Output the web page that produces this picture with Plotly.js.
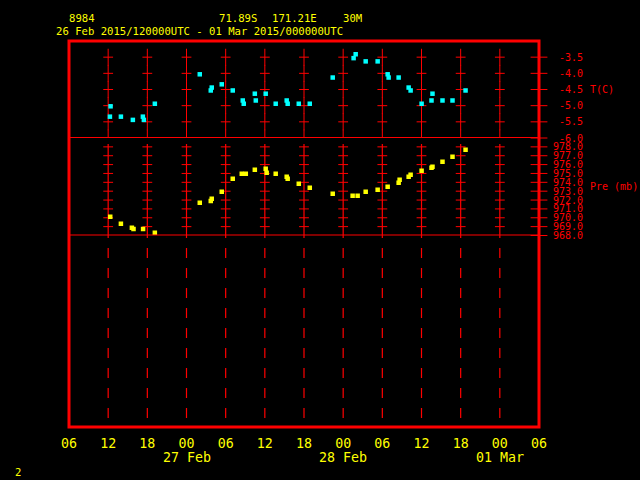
<!DOCTYPE html>
<html>
<head>
<meta charset="utf-8">
<script src="https://cdn.plot.ly/plotly-3.0.1.min.js"></script>
<style>html,body{margin:0;padding:0;background:#000;}#chart{width:640px;height:480px;}</style>
</head>
<body>
<div id="chart"></div>
<script>
// ---- data ----
const tempTimes = [
  '2015-02-26 12:16','2015-02-26 12:22','2015-02-26 13:57','2015-02-26 15:47','2015-02-26 17:19',
  '2015-02-26 17:28','2015-02-26 19:09','2015-02-27 02:02','2015-02-27 03:43','2015-02-27 03:52',
  '2015-02-27 05:24','2015-02-27 07:05','2015-02-27 08:37','2015-02-27 08:46','2015-02-27 10:28',
  '2015-02-27 10:37','2015-02-27 12:08','2015-02-27 13:40','2015-02-27 15:21','2015-02-27 15:30',
  '2015-02-27 17:12','2015-02-27 18:53','2015-02-27 22:24','2015-02-28 01:36','2015-02-28 01:55',
  '2015-02-28 03:27','2015-02-28 05:17','2015-02-28 06:49','2015-02-28 06:58','2015-02-28 08:30',
  '2015-02-28 10:02','2015-02-28 10:20','2015-02-28 12:01','2015-02-28 13:32','2015-02-28 13:41',
  '2015-02-28 15:13','2015-02-28 16:45','2015-02-28 18:45'
];
const tempValues = [
  -5.34,-5.02,-5.34,-5.44,-5.34,
  -5.44,-4.94,-4.03,-4.53,-4.44,
  -4.34,-4.53,-4.84,-4.94,-4.63,
  -4.84,-4.63,-4.94,-4.84,-4.94,
  -4.94,-4.94,-4.13,-3.53,-3.41,
  -3.63,-3.63,-4.03,-4.13,-4.13,
  -4.44,-4.53,-4.94,-4.84,-4.63,
  -4.84,-4.84,-4.53
];
const pressTimes = [
  '2015-02-26 12:19','2015-02-26 13:57','2015-02-26 15:38','2015-02-26 15:53','2015-02-26 17:21',
  '2015-02-26 19:09','2015-02-27 02:02','2015-02-27 03:43','2015-02-27 03:52','2015-02-27 05:24',
  '2015-02-27 07:05','2015-02-27 08:28','2015-02-27 09:05','2015-02-27 10:28','2015-02-27 12:08',
  '2015-02-27 12:17','2015-02-27 13:40','2015-02-27 15:21','2015-02-27 15:30','2015-02-27 17:12',
  '2015-02-27 18:53','2015-02-27 22:24','2015-02-28 01:27','2015-02-28 02:13','2015-02-28 03:27',
  '2015-02-28 05:17','2015-02-28 06:49','2015-02-28 08:30','2015-02-28 08:39','2015-02-28 10:02',
  '2015-02-28 10:20','2015-02-28 12:01','2015-02-28 13:32','2015-02-28 13:41','2015-02-28 15:13',
  '2015-02-28 16:45','2015-02-28 18:45'
];
const pressValues = [
  970.12,969.33,968.88,968.73,968.73,
  968.32,971.70,971.89,972.15,972.94,
  974.41,974.97,974.97,975.43,975.54,
  975.09,974.97,974.64,974.41,973.85,
  973.40,972.72,972.49,972.49,972.94,
  973.17,973.51,973.96,974.30,974.64,
  974.86,975.31,975.65,975.77,976.33,
  976.89,977.68
];
const tickTimes = [
  '2015-02-26 06:00','2015-02-26 12:00','2015-02-26 18:00','2015-02-27 00:00','2015-02-27 06:00',
  '2015-02-27 12:00','2015-02-27 18:00','2015-02-28 00:00','2015-02-28 06:00','2015-02-28 12:00',
  '2015-02-28 18:00','2015-03-01 00:00','2015-03-01 06:00'
];
const tickLabels = ['06','12','18','00','06','12','18','00','06','12','18','00','06'];
const dayTimes = ['2015-02-27 00:00','2015-02-28 00:00','2015-03-01 00:00'];
const dayLabels = ['27 Feb','28 Feb','01 Mar'];
const tempTicks = [-3.5,-4.0,-4.5,-5.0,-5.5,-6.0];
const pressTicks = [968,969,970,971,972,973,974,975,976,977,978];

// ---- layout helpers ----
const FONT = 'DejaVu Sans Mono';
const RED = '#ff0000', YEL = '#ffff00', CYAN = '#00ffff';
const M = {l:69, r:101, t:41, b:53};
const PW = 640 - M.l - M.r, PH = 480 - M.t - M.b;
const px2x = p => (p - M.l) / PW;
const py2y = p => (480 - M.b - p) / PH;
const tempDom = [py2y(138), 1];
const pressDom = [py2y(235.5), py2y(138)];

const inner = tickTimes.slice(1, -1);
const endTime = tickTimes[tickTimes.length - 1];

function grid(times, levels) {
  const xs = [], ys = [];
  times.forEach(t => levels.forEach(v => { xs.push(t); ys.push(v); }));
  return {xs, ys};
}
const tNs = grid(inner, tempTicks);
const tEw = grid(inner, tempTicks.slice(0, 5));
const pEw = grid(inner, pressTicks.slice(1));

function mk(sym, size) { return {symbol: sym, size: size, color: RED, line: {color: RED, width: 1}}; }

const traces = [
  {x: [tickTimes[0]], y: [0.5], yaxis: 'y', mode: 'markers', marker: {opacity: 0}, hoverinfo: 'skip'},
  {x: tNs.xs, y: tNs.ys, yaxis: 'y2', mode: 'markers', marker: mk('line-ns', 12), hoverinfo: 'skip', cliponaxis: true},
  {x: tEw.xs, y: tEw.ys, yaxis: 'y2', mode: 'markers', marker: mk('line-ew', 7), hoverinfo: 'skip'},
  {x: pEw.xs, y: pEw.ys, yaxis: 'y3', mode: 'markers', marker: mk('line-ew', 7), hoverinfo: 'skip'},
  {x: tempTicks.map(() => endTime), y: tempTicks, yaxis: 'y2', mode: 'markers', marker: mk('line-ew', 12), cliponaxis: false, hoverinfo: 'skip'},
  {x: pressTicks.map(() => endTime), y: pressTicks, yaxis: 'y3', mode: 'markers', marker: mk('line-ew', 12), cliponaxis: false, hoverinfo: 'skip'},
  {x: tempTimes, y: tempValues, yaxis: 'y2', mode: 'markers', name: 'T(C)',
   marker: {symbol: 'square', size: 4.5, color: CYAN, line: {width: 0}}},
  {x: pressTimes, y: pressValues, yaxis: 'y3', mode: 'markers', name: 'Pre (mb)',
   marker: {symbol: 'square', size: 4.5, color: YEL, line: {width: 0}}}
];

const shapes = [];
inner.forEach(t => {
  shapes.push({type: 'line', xref: 'x', yref: 'paper', x0: t, x1: t, y0: py2y(144), y1: py2y(238),
               line: {color: RED, width: 1.2}, layer: 'below'});
  shapes.push({type: 'line', xref: 'x', yref: 'paper', x0: t, x1: t, y0: py2y(248), y1: 0,
               line: {color: RED, width: 1.2, dash: '10px,10px'}, layer: 'below'});
});
shapes.push({type: 'line', xref: 'paper', yref: 'y2', x0: 0, x1: 1, y0: -6, y1: -6, line: {color: RED, width: 2}});
shapes.push({type: 'line', xref: 'paper', yref: 'y3', x0: 0, x1: 1, y0: 968, y1: 968, line: {color: RED, width: 2}});
shapes.push({type: 'rect', xref: 'paper', yref: 'paper', x0: 0, x1: 1, y0: 0, y1: 1, line: {color: RED, width: 3}});

function ann(text, px, py, color, size, xanchor) {
  return {text: text, xref: 'paper', yref: 'paper', x: px2x(px), y: py2y(py), showarrow: false,
          xanchor: xanchor || 'left', yanchor: 'middle', borderpad: 0, borderwidth: 0,
          font: {family: FONT, size: size, color: color}};
}
const annotations = [
  ann('8984', 69, 18, YEL, 10.6),
  ann('71.89S', 219, 18, YEL, 10.6),
  ann('171.21E', 271.5, 18, YEL, 10.6),
  ann('30M', 343, 18, YEL, 10.6),
  ann('26 Feb 2015/120000UTC - 01 Mar 2015/000000UTC', 56, 31.5, YEL, 10.6),
  ann('2', 15, 472, YEL, 10.6),
  {text: 'T(C)', xref: 'paper', yref: 'y2', x: px2x(589), y: -4.5, showarrow: false, xanchor: 'left', yanchor: 'middle',
   borderpad: 0, font: {family: FONT, size: 10, color: RED}},
  {text: 'Pre (mb)', xref: 'paper', yref: 'y3', x: px2x(589), y: 973.5, showarrow: false, xanchor: 'left', yanchor: 'middle',
   borderpad: 0, font: {family: FONT, size: 10, color: RED}}
];
dayTimes.forEach((t, i) => annotations.push({text: dayLabels[i], xref: 'x', yref: 'paper', x: t, y: py2y(457),
  showarrow: false, xanchor: 'center', yanchor: 'middle', borderpad: 0, font: {family: FONT, size: 13.3, color: YEL}}));

const layout = {
  width: 640, height: 480, margin: M, showlegend: false,
  paper_bgcolor: '#000', plot_bgcolor: 'rgba(0,0,0,0)',
  xaxis: {type: 'date', range: [tickTimes[0], endTime], anchor: 'free', position: 0, tickmode: 'array', tickvals: tickTimes, ticktext: tickLabels,
          showgrid: false, zeroline: false, showline: false, ticks: '', ticklabelstandoff: 7,
          tickfont: {family: FONT, size: 13.3, color: YEL}},
  yaxis: {domain: [0, 1], range: [0, 1], visible: false, fixedrange: true},
  yaxis2: {domain: tempDom, range: [-6, -3], anchor: 'x', side: 'right', tickmode: 'array', tickvals: tempTicks,
           ticktext: tempTicks.map(v => v.toFixed(1)), showgrid: false, zeroline: false, showline: false, ticks: '',
           ticklabelstandoff: 19, tickfont: {family: FONT, size: 10, color: RED}},
  yaxis3: {domain: pressDom, range: [968, 979], anchor: 'x', side: 'right', tickmode: 'array', tickvals: pressTicks,
           ticktext: pressTicks.map(v => v.toFixed(1)), showgrid: false, zeroline: false, showline: false, ticks: '',
           ticklabelstandoff: 13, tickfont: {family: FONT, size: 10, color: RED}},
  shapes: shapes, annotations: annotations
};
Plotly.newPlot('chart', traces, layout, {staticPlot: true, displayModeBar: false});
</script>
</body>
</html>
